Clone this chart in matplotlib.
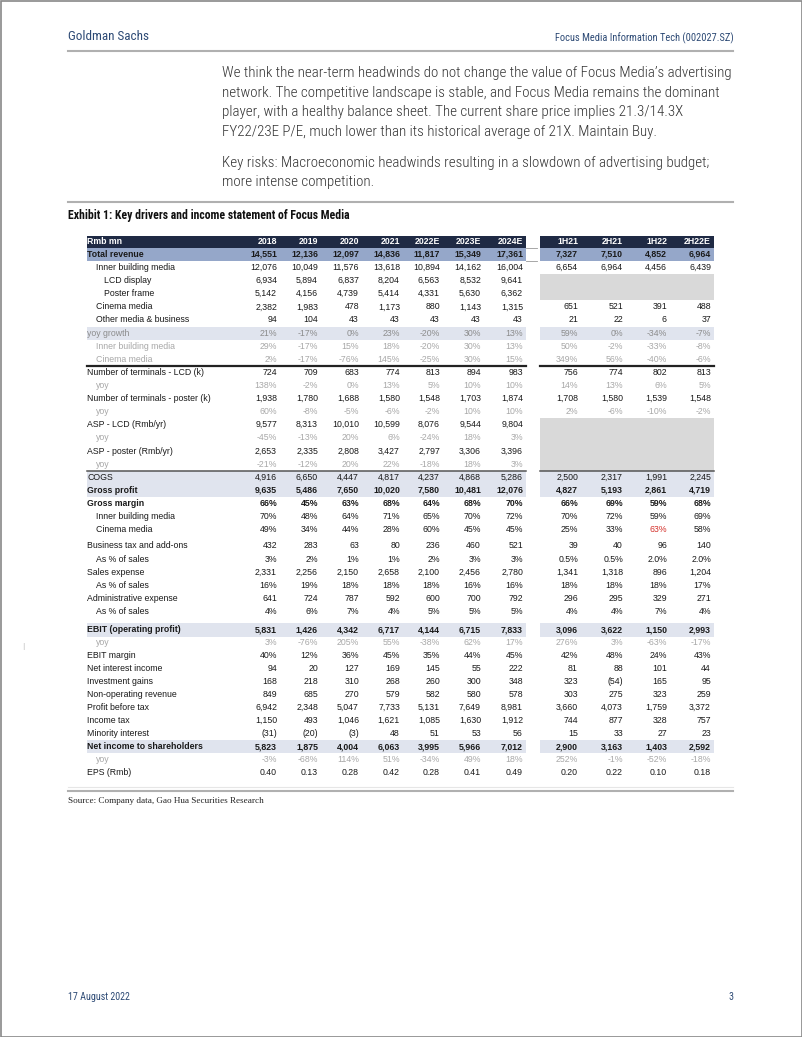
import matplotlib
matplotlib.use("Agg")
import matplotlib.pyplot as plt
from matplotlib.patches import Rectangle

W, H = 802, 1037

# ---- data ----
years = ['2018', '2019', '2020', '2021', '2022E', '2023E', '2024E']
halves = ['1H21', '2H21', '1H22', '2H22E']

row_labels = [
    'Total revenue', 'Inner building media', 'LCD display', 'Poster frame',
    'Cinema media', 'Other media & business', 'yoy growth',
    'Inner building media', 'Cinema media', 'Number of terminals - LCD (k)',
    'yoy', 'Number of terminals - poster (k)', 'yoy', 'ASP - LCD (Rmb/yr)',
    'yoy', 'ASP - poster (Rmb/yr)', 'yoy', 'COGS', 'Gross profit',
    'Gross margin', 'Inner building media', 'Cinema media',
    'Business tax and add-ons', 'As % of sales', 'Sales expense',
    'As % of sales', 'Administrative expense', 'As % of sales',
    'EBIT (operating profit)', 'yoy', 'EBIT margin', 'Net interest income',
    'Investment gains', 'Non-operating revenue', 'Profit before tax',
    'Income tax', 'Minority interest', 'Net income to shareholders', 'yoy',
    'EPS (Rmb)',
]

annual_vals = [
    [14551, 12136, 12097, 14836, 11817, 15349, 17361],
    [12076, 10049, 11576, 13618, 10894, 14162, 16004],
    [6934, 5894, 6837, 8204, 6563, 8532, 9641],
    [5142, 4156, 4739, 5414, 4331, 5630, 6362],
    [2382, 1983, 478, 1173, 880, 1143, 1315],
    [94, 104, 43, 43, 43, 43, 43],
    [21, -17, 0, 23, -20, 30, 13],
    [29, -17, 15, 18, -20, 30, 13],
    [2, -17, -76, 145, -25, 30, 15],
    [724, 709, 683, 774, 813, 894, 983],
    [138, -2, 0, 13, 5, 10, 10],
    [1938, 1780, 1688, 1580, 1548, 1703, 1874],
    [60, -8, -5, -6, -2, 10, 10],
    [9577, 8313, 10010, 10599, 8076, 9544, 9804],
    [-45, -13, 20, 6, -24, 18, 3],
    [2653, 2335, 2808, 3427, 2797, 3306, 3396],
    [-21, -12, 20, 22, -18, 18, 3],
    [4916, 6650, 4447, 4817, 4237, 4868, 5286],
    [9635, 5486, 7650, 10020, 7580, 10481, 12076],
    [66, 45, 63, 68, 64, 68, 70],
    [70, 48, 64, 71, 65, 70, 72],
    [49, 34, 44, 28, 60, 45, 45],
    [432, 283, 63, 80, 236, 460, 521],
    [3, 2, 1, 1, 2, 3, 3],
    [2331, 2256, 2150, 2658, 2100, 2456, 2780],
    [16, 19, 18, 18, 18, 16, 16],
    [641, 724, 787, 592, 600, 700, 792],
    [4, 6, 7, 4, 5, 5, 5],
    [5831, 1426, 4342, 6717, 4144, 6715, 7833],
    [3, -76, 205, 55, -38, 62, 17],
    [40, 12, 36, 45, 35, 44, 45],
    [94, 20, 127, 169, 145, 55, 222],
    [168, 218, 310, 268, 260, 300, 348],
    [849, 685, 270, 579, 582, 580, 578],
    [6942, 2348, 5047, 7733, 5131, 7649, 8981],
    [1150, 493, 1046, 1621, 1085, 1630, 1912],
    [-31, -20, -3, 48, 51, 53, 56],
    [5823, 1875, 4004, 6063, 3995, 5966, 7012],
    [-3, -68, 114, 51, -34, 49, 18],
    [0.40, 0.13, 0.28, 0.42, 0.28, 0.41, 0.49],
]

half_vals = [
    [7327, 7510, 4852, 6964],
    [6654, 6964, 4456, 6439],
    None,
    None,
    [651, 521, 391, 488],
    [21, 22, 6, 37],
    [59, 0, -34, -7],
    [50, -2, -33, -8],
    [349, 56, -40, -6],
    [756, 774, 802, 813],
    [14, 13, 6, 5],
    [1708, 1580, 1539, 1548],
    [2, -6, -10, -2],
    None,
    None,
    None,
    None,
    [2500, 2317, 1991, 2245],
    [4827, 5193, 2861, 4719],
    [66, 69, 59, 68],
    [70, 72, 59, 69],
    [25, 33, 63, 58],
    [39, 40, 96, 140],
    [0.5, 0.5, 2.0, 2.0],
    [1341, 1318, 896, 1204],
    [18, 18, 18, 17],
    [296, 295, 329, 271],
    [4, 4, 7, 4],
    [3096, 3622, 1150, 2993],
    [276, 3, -63, -17],
    [42, 48, 24, 43],
    [81, 88, 101, 44],
    [323, -54, 165, 95],
    [303, 275, 323, 259],
    [3660, 4073, 1759, 3372],
    [744, 877, 328, 757],
    [15, 33, 27, 23],
    [2900, 3163, 1403, 2592],
    [252, -1, -52, -18],
    [0.20, 0.22, 0.10, 0.18],
]

# number format per row: n = integer, p = percent, p1 = percent 1dp, e = 2dp
row_fmt = ['n'] * 6 + ['p'] * 3 + ['n', 'p', 'n', 'p', 'n', 'p', 'n', 'p'] + \
    ['n', 'n', 'p', 'p', 'p'] + ['n', 'p'] * 3 + \
    ['n', 'p', 'p'] + ['n'] * 7 + ['p', 'e']
half_fmt = list(row_fmt)
half_fmt[23] = 'p1'

para_lines = [
    "We think the near-term headwinds do not change the value of Focus Media\u2019s advertising",
    "network. The competitive landscape is stable, and Focus Media remains the dominant",
    "player, with a healthy balance sheet. The current share price implies 21.3/14.3X",
    "FY22/23E P/E, much lower than its historical average of 21X. Maintain Buy.",
]
risk_lines = [
    "Key risks: Macroeconomic headwinds resulting in a slowdown of advertising budget;",
    "more intense competition.",
]

# ---- styles ----
indent = [0, 1, 2, 2, 1, 1, 0, 1, 1, 0, 1, 0, 1, 0, 1, 0, 1, 0, 0, 0, 1, 1,
          0, 1, 0, 1, 0, 1, 0, 1, 0, 0, 0, 0, 0, 0, 0, 0, 1, 0]
kind = ['total', 'n', 'n', 'n', 'n', 'n', 'growth', 'faint', 'faint',
        'n', 'faint', 'n', 'faint', 'n', 'faint', 'n', 'faint',
        'band', 'boldband', 'bold', 'n', 'n',
        'n', 'n', 'n', 'n', 'n', 'n',
        'boldband', 'faint', 'n', 'n', 'n', 'n', 'n', 'n', 'n', 'boldband',
        'faint', 'n']
red_cells = [(21, 2)]

NAVY = '#1f2a44'
MID = '#95a7c9'
LIGHT = '#e0e4ee'
GREY_BLOCK = '#d9d9d9'
BRAND = '#2d4a75'
TXT = '#1a1a1a'

FS = 6.3
SANS = ['Liberation Sans', 'DejaVu Sans']
COND = ['Roboto Condensed', 'Liberation Sans Narrow', 'Liberation Sans', 'DejaVu Sans']

ann_x = [277, 318, 359, 400, 440, 481, 523]
half_x = [578, 623, 667, 711]
L0, L1 = 87, 526
R0, R1 = 540, 714
label_x = [87, 96, 104]


def row_y(i):
    if i < 22:
        return 254.5 + 13.1 * i
    if i < 28:
        return 546 + 13.1 * (i - 22)
    return 630 + 12.95 * (i - 28)


def fmt(v, f):
    if f == 'p':
        return f"{v:.0f}%"
    if f == 'p1':
        return f"{v:.1f}%"
    if f == 'e':
        return f"{v:.2f}"
    s = f"{abs(v):,.0f}"
    return f"({s})" if v < 0 else s


fig = plt.figure(figsize=(W / 100, H / 100), dpi=100)
ax = fig.add_axes([0, 0, 1, 1])
ax.set_xlim(0, W)
ax.set_ylim(H, 0)
ax.axis('off')
renderer = fig.canvas.get_renderer()


def fit_size(s, width, **kw):
    size = 10.0
    for _ in range(3):
        t = ax.text(0, 0, s, fontsize=size, **kw)
        w = t.get_window_extent(renderer=renderer).width
        t.remove()
        size = size * width / w
    return size


def band(y, x0, x1, color, h=13.1):
    ax.add_patch(Rectangle((x0, y - h / 2), x1 - x0, h, color=color, lw=0, zorder=1))


# page frame
ax.add_patch(Rectangle((0.5, 0.5), W - 1, H - 1, fill=False, ec='#888888', lw=1.2, zorder=5))

# running header
gs = fit_size('Goldman Sachs', 81, family=COND)
ax.text(68, 37, 'Goldman Sachs', fontsize=gs, family=COND, color=BRAND, va='center')
rs = fit_size('Focus Media Information Tech (002027.SZ)', 177, family=COND)
ax.text(734, 38, 'Focus Media Information Tech (002027.SZ)', fontsize=rs, family=COND,
        color=BRAND, va='center', ha='right')
ax.plot([68, 733], [51, 51], color='#b0b0b0', lw=1.5)

# paragraph
ps = fit_size(para_lines[0], 510, family=COND, weight='light')
for k, line in enumerate(para_lines):
    ax.text(221.5, 73 + 19.7 * k, line, fontsize=ps, family=COND, weight='light',
            color='#333333', va='center')
for k, line in enumerate(risk_lines):
    ax.text(221.5, 162.5 + 19.7 * k, line, fontsize=ps, family=COND, weight='light',
            color='#333333', va='center')

ax.plot([68, 733], [202, 202], color='#b0b0b0', lw=1.5)
es = fit_size('Exhibit 1: Key drivers and income statement of Focus Media', 283,
              family=COND, weight='bold')
ax.text(68, 216, 'Exhibit 1: Key drivers and income statement of Focus Media',
        fontsize=es, family=COND, weight='bold', color='#111111', va='center')

# table header
hy = 242
band(hy, L0, L1, NAVY, 12.5)
band(hy, R0, R1, NAVY, 12.5)
ax.text(L0, hy, 'Rmb mn', fontsize=FS, family=SANS, color='white', weight='bold',
        va='center', zorder=3)
for x, lab in zip(ann_x, years):
    ax.text(x, hy, lab, fontsize=FS, family=SANS, color='white', weight='bold',
            va='center', ha='right', zorder=3)
for x, lab in zip(half_x, halves):
    ax.text(x, hy, lab, fontsize=FS, family=SANS, color='white', weight='bold',
            va='center', ha='right', zorder=3)

# row backgrounds
for i, k in enumerate(kind):
    y = row_y(i)
    if k == 'total':
        band(y, L0, L1, MID)
        band(y, R0, R1, MID)
    elif k in ('growth', 'band', 'boldband'):
        band(y, L0, L1, LIGHT)
        band(y, R0, R1, LIGHT)

# small outlined cell next to total revenue
ax.plot([L1, 537], [row_y(0) - 6.5, row_y(0) - 6.5], color='#999999', lw=0.6)
ax.plot([L1, 537], [row_y(0) + 6.5, row_y(0) + 6.5], color='#999999', lw=0.6)

# grey blocks where half-year data not reported
for i0, i1 in [(2, 3), (13, 16)]:
    y0 = row_y(i0) - 6.5
    y1 = row_y(i1) + 6.5
    ax.add_patch(Rectangle((R0, y0), R1 - R0, y1 - y0, color=GREY_BLOCK, lw=0, zorder=1))

# separator lines
ysep = (row_y(8) + row_y(9)) / 2
ax.plot([L0, L1], [ysep, ysep], color='#222222', lw=1.6, zorder=2)
ax.plot([R0, R1], [ysep, ysep], color='#222222', lw=1.6, zorder=2)
ysep2 = (row_y(16) + row_y(17)) / 2
ax.plot([L0, L1], [ysep2, ysep2], color='#555555', lw=1.1, zorder=2)
ax.plot([R0, R1], [ysep2, ysep2], color='#555555', lw=1.1, zorder=2)

# table body
for i, lab in enumerate(row_labels):
    y = row_y(i)
    k = kind[i]
    weight = 'bold' if k in ('total', 'boldband', 'bold') else 'normal'
    color = TXT
    if k == 'growth':
        color = '#8c8c8c'
    elif k == 'faint':
        color = '#a8a8a8'
    ax.text(label_x[indent[i]], y, lab, fontsize=FS, family=SANS, color=color,
            weight=weight, va='center', zorder=3)
    for x, v in zip(ann_x, annual_vals[i]):
        ax.text(x, y, fmt(v, row_fmt[i]), fontsize=FS, family=SANS, color=color,
                weight=weight, va='center', ha='right', zorder=3)
    if half_vals[i] is not None:
        for j, (x, v) in enumerate(zip(half_x, half_vals[i])):
            c = '#d4302a' if (i, j) in red_cells else color
            ax.text(x, y, fmt(v, half_fmt[i]), fontsize=FS, family=SANS, color=c,
                    weight=weight, va='center', ha='right', zorder=3)

# bottom rule and source
ax.plot([68, 733], [787, 787], color='#e6e6e6', lw=0.8)
ax.plot([68, 733], [791, 791], color='#b0b0b0', lw=1.5)
ss = fit_size('Source: Company data, Gao Hua Securities Research', 194,
              family=['Liberation Serif', 'DejaVu Serif'])
ax.text(68, 801, 'Source: Company data, Gao Hua Securities Research', fontsize=ss,
        family=['Liberation Serif', 'DejaVu Serif'], color='#222222', va='center')

# margin mark
ax.text(23, 646, '|', fontsize=5, color='#bbbbbb', va='center', ha='center')

# footer
ds = fit_size('17 August 2022', 62, family=COND)
ax.text(68, 997, '17 August 2022', fontsize=ds, family=COND, color=BRAND, va='center')
ax.text(733, 997, '3', fontsize=ds, family=COND, color=BRAND, va='center', ha='right')

fig.savefig('out.png', dpi=100)
